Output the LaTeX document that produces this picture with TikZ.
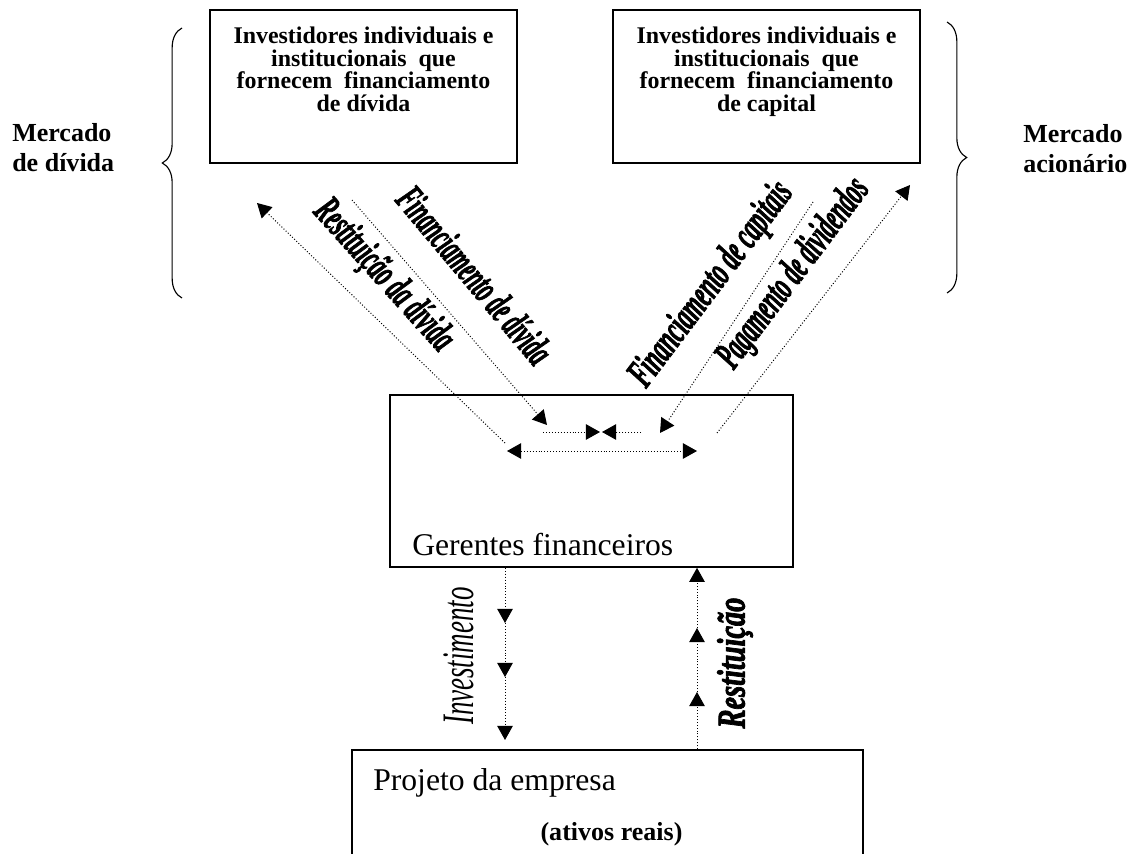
\documentclass[tikz,border=0pt]{standalone}
\usepackage{fontspec}
\setmainfont{Liberation Serif}
\newfontfamily\heavyserif[FakeBold=2.5]{Liberation Serif}
\usepackage{tikz}
\usetikzlibrary{arrows.meta,positioning,calc,decorations.pathreplacing}

\tikzstyle{market} = [rectangle, draw=black, line width=1.1pt, minimum width=7.675cm,
                      minimum height=3.825cm]
\tikzstyle{panel} = [rectangle, draw=black, line width=1.1pt]
\tikzstyle{boxtext} = [align=center, inner sep=0pt, font=\fontsize{17}{16}\selectfont\bfseries]
\tikzstyle{sidelabel} = [align=left, inner sep=0pt, font=\fontsize{18.5}{21.3}\selectfont\bfseries]
\tikzstyle{flowlabel} = [inner sep=0pt, font=\heavyserif\fontsize{29}{32}\selectfont\bfseries\itshape]
\tikzstyle{flow} = [line width=0.7pt, dash pattern=on 0.7pt off 1.4pt,
                    -{Triangle[length=10pt,width=11pt]}]
\tikzstyle{flowboth} = [flow, {Triangle[length=10pt,width=11pt]}-{Triangle[length=10pt,width=11pt]}]
\tikzstyle{curly} = [line width=0.8pt, decorate, decoration={brace, amplitude=14pt}]

\begin{document}
\begin{tikzpicture}[x=0.025cm, y=-0.025cm]
    \clip (0,0) rectangle (1141,853);

    % investor boxes
    \node[market] (debtbox) at (363.5,86.5) {};
    \node[boxtext, anchor=north] (debttext) at (363.5,27)
        {Investidores individuais e\\ institucionais~ que\\ fornecem~ financiamento\\ de dívida};
    \node[market] (equitybox) at (766.5,86.5) {};
    \node[boxtext, anchor=north] (equitytext) at (766.5,27)
        {Investidores individuais e\\ institucionais~ que\\ fornecem~ financiamento\\ de capital};

    % markets
    \node[sidelabel, anchor=west] (debtmarket) at (12,148) {Mercado\\de dívida};
    \node[sidelabel, anchor=west] (equitymarket) at (1023,149) {Mercado\\acionário};
    \draw[curly] (182,298) -- (182,28);
    \draw[curly] (947,22) -- (947,293);

    % financial managers
    \node[panel, minimum width=10.075cm, minimum height=4.3cm] (managers) at (591.5,481) {};
    \node[anchor=base west, inner sep=0pt, font=\fontsize{22.5}{26}\selectfont]
        (managertext) at (412,555) {Gerentes financeiros};

    % firm's project
    \node[panel, minimum width=12.775cm, minimum height=3.25cm] (project) at (607.5,815) {};
    \node[anchor=base west, inner sep=0pt, font=\fontsize{22.5}{26}\selectfont]
        (projecttext) at (373,790) {Projeto da empresa};
    \node[anchor=base, inner sep=0pt, font=\fontsize{18.5}{21}\selectfont\bfseries]
        (assetstext) at (611.5,840) {(ativos reais)};

    % free ends of the flows
    \coordinate (repayhead) at (257,203);
    \coordinate (repaytail) at (505,443);
    \coordinate (debtin) at (352,200);
    \coordinate (debthead) at (547,425);
    \coordinate (equityin) at (813,202);
    \coordinate (equityhead) at (660,433);
    \coordinate (divtail) at (717,433);
    \coordinate (divhead) at (910,185);
    \coordinate (leftend) at (543,432);
    \coordinate (meetleft) at (600,432);
    \coordinate (meetright) at (602,432);
    \coordinate (rightend) at (641,432);
    \coordinate (wideleft) at (507,451);
    \coordinate (wideright) at (697,451);
    \coordinate (invest1) at (505,623);
    \coordinate (invest2) at (505,677);
    \coordinate (invest3) at (505,740);
    \coordinate (return1) at (697,692);
    \coordinate (return2) at (697,628);

    % flows with the markets
    \draw[flow] (repaytail) -- (repayhead);
    \draw[flow] (debtin) -- (debthead);
    \draw[flow] (equityin) -- (equityhead);
    \draw[flow] (divtail) -- (divhead);
    \draw[flow] (leftend) -- (meetleft);
    \draw[flow] (rightend) -- (meetright);
    \draw[flowboth] (wideleft) -- (wideright);

    % flows with the project
    \draw[flow] (managers.south -| invest1) -- (invest1);
    \draw[flow] (invest1) -- (invest2);
    \draw[flow] (invest2) -- (invest3);
    \draw[flow] (project.north -| return1) -- (return1);
    \draw[flow] (return1) -- (return2);
    \draw[flow] (return2) -- (managers.south -| return2);

    % flow labels
    \node[flowlabel, rotate=-48] (repaylabel) at (383,276) {\scalebox{0.54}[1]{Restituição da dívida}};
    \node[flowlabel, rotate=-50] (debtlabel) at (475,275) {\scalebox{0.52}[1]{Financiamento de dívida}};
    \node[flowlabel, rotate=53] (equitylabel) at (712,285) {\scalebox{0.55}[1]{Financiamento de capitais}};
    \node[flowlabel, rotate=53] (divlabel) at (794,274) {\scalebox{0.53}[1]{Pagamento de dividendos}};
    \node[flowlabel, rotate=90, font=\fontsize{32}{34}\selectfont\itshape]
        (investlabel) at (459,656) {\scalebox{0.6}[1]{Investimento}};
    \node[flowlabel, rotate=90, font=\heavyserif\fontsize{28}{30}\selectfont\bfseries\itshape]
        (returnlabel) at (735,663) {\scalebox{0.72}[1]{Restituição}};
\end{tikzpicture}
\end{document}
